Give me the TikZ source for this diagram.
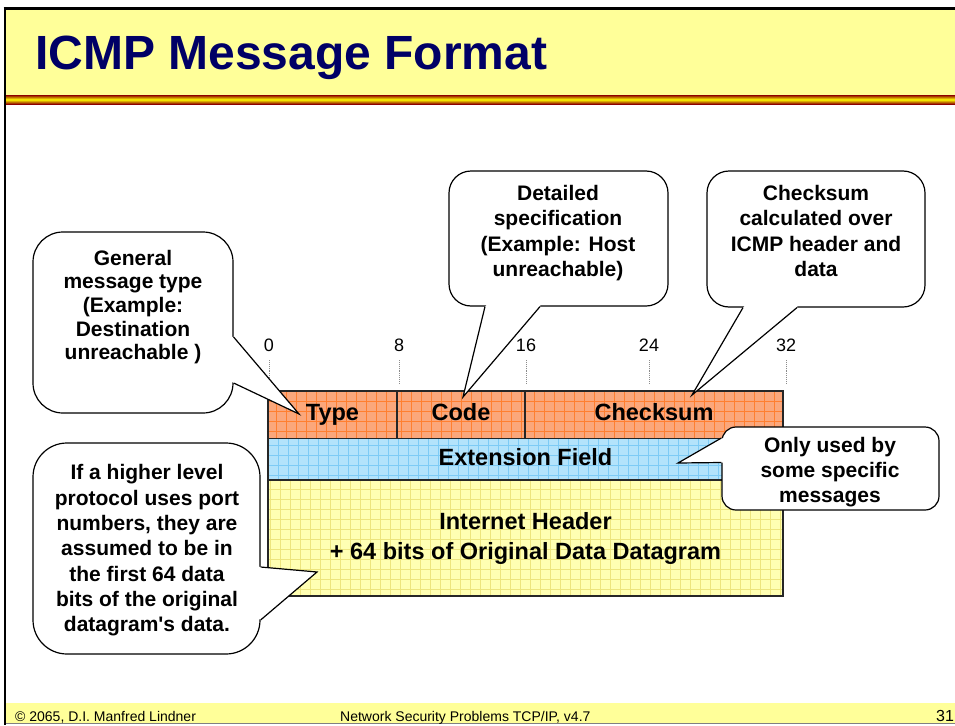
\documentclass[tikz,border=0pt]{standalone}
\usepackage{fontspec}
\setmainfont{Liberation Sans}
\usetikzlibrary{calc}

\definecolor{slideyellow}{HTML}{FFFF99}
\definecolor{titleblue}{HTML}{000066}
\definecolor{typeorange}{HTML}{FBA77B}
\definecolor{typegrid}{HTML}{FF7F30}
\definecolor{extblue}{HTML}{B3E3FB}
\definecolor{extgrid}{HTML}{7ECBF5}
\definecolor{inetyellow}{HTML}{FFFFB3}
\definecolor{inetgrid}{HTML}{EDE57E}

\begin{document}
\begin{tikzpicture}[x=1pt,y=-1pt,
  field/.style={draw=black!85, line width=1.1pt, inner sep=0pt, align=center,
    font=\fontsize{23.5}{30}\selectfont\bfseries},
  oneline/.style={text height=17pt, text depth=5pt},
  paper/.style 2 args={fill=#1, path picture={\draw[#2, line width=0.5pt, step=10pt]
    (path picture bounding box.south west) grid (path picture bounding box.north east);}},
  callout/.style={draw, line width=1.2pt, fill=white, rounded corners=#1, inner sep=0pt},
  tail/.style={line width=1.2pt},
  note/.style={align=center, inner sep=0pt, font=\fontsize{21}{#1}\selectfont\bfseries},
  note/.default=25.3,
  bitnum/.style={font=\fontsize{18}{20}\selectfont},
  tick/.style={densely dotted, black!45, line width=0.9pt},
  footer/.style={anchor=base west, inner sep=0pt, font=\fontsize{14}{16}\selectfont}]
\useasboundingbox (0,0) rectangle (955,725);

% slide frame
\fill[slideyellow] (6,10) rectangle (955,95);
\shade[top color=red!55!black, bottom color=red!55!black, middle color=yellow] (6,95) rectangle (955,104);
\fill[slideyellow] (6,703) rectangle (955,723);
\draw[black!50] (6,723) -- (955,723);
\draw[line width=3pt] (3.5,8.5) -- (955,8.5);
\draw[line width=2.5pt] (5,8) -- (5,725);
\node[anchor=base west, inner sep=0pt, text=titleblue, font=\fontsize{48}{56}\selectfont\bfseries] (title) at (35,70) {ICMP Message Format};
\node[footer] (copy) at (15,721) {© 2065, D.I. Manfred Lindner};
\node[footer] (course) at (340,721) {Network Security Problems TCP/IP, v4.7};
\node[footer, font=\fontsize{16}{18}\selectfont] (page) at (936,721) {31};

% bit scale
\foreach \b/\x in {0/269,8/399,16/526,24/649,32/786}{
  \node[bitnum] (bit\b) at (\x,345) {\b};
  \draw[tick] (\x,360) -- (\x,383);
}

% message fields
\node[field, oneline, paper={typeorange}{typegrid}, minimum width=129pt, minimum height=47.5pt] (type) at (332.5,414.75) {Type};
\node[field, oneline, paper={typeorange}{typegrid}, minimum width=128pt, minimum height=47.5pt] (code) at (461,414.75) {Code};
\node[field, oneline, paper={typeorange}{typegrid}, minimum width=258pt, minimum height=47.5pt] (chksum) at (654,414.75) {Checksum};
\node[field, oneline, paper={extblue}{extgrid}, minimum width=515pt, minimum height=41.5pt] (ext) at (525.5,459.25) {Extension Field};
\node[field, paper={inetyellow}{inetgrid}, minimum width=515pt, minimum height=116pt] (inet) at (525.5,538) {Internet Header\\+ 64 bits of Original Data Datagram};

% callouts
\node[callout=30pt, minimum width=200pt, minimum height=181pt] (typecall) at (133,322.5) {};
\node[callout=22pt, minimum width=219pt, minimum height=135pt] (codecall) at (558.5,238.5) {};
\node[callout=22pt, minimum width=218pt, minimum height=136pt] (sumcall) at (816,239) {};
\node[callout=14pt, minimum width=217pt, minimum height=83pt] (extcall) at (830.5,468.5) {};
\node[callout=34pt, minimum width=227pt, minimum height=211pt] (portcall) at (146.5,548.5) {};

\coordinate (typetip) at (299,414);
\coordinate (codetip) at (463,397);
\coordinate (sumtip) at (692,395);
\coordinate (exttip) at (678,463);
\coordinate (porttip) at (317,572);

\fill[white] ($(typecall.east)+(0,14.5)$) -- (typetip) -- ($(typecall.east)+(0,60.5)$) -- (typecall.center) -- cycle;
\draw[tail] ($(typecall.east)+(0,14.5)$) -- (typetip) -- ($(typecall.east)+(0,60.5)$);
\fill[white] ($(codecall.south)+(-73.5,0)$) -- (codetip) -- ($(codecall.south)+(-18.5,0)$) -- (codecall.center) -- cycle;
\draw[tail] ($(codecall.south)+(-73.5,0)$) -- (codetip) -- ($(codecall.south)+(-18.5,0)$);
\fill[white] ($(sumcall.south)+(-73,0)$) -- (sumtip) -- ($(sumcall.south)+(-19,0)$) -- (sumcall.center) -- cycle;
\draw[tail] ($(sumcall.south)+(-73,0)$) -- (sumtip) -- ($(sumcall.south)+(-19,0)$);
\fill[white] ($(extcall.west)+(0,-30.5)$) -- (exttip) -- ($(extcall.west)+(0,-6)$) -- (extcall.center) -- cycle;
\draw[tail] ($(extcall.west)+(0,-30.5)$) -- (exttip) -- ($(extcall.west)+(0,-6)$);
\fill[white] ($(portcall.east)+(0,18.5)$) -- (porttip) -- ($(portcall.east)+(0,71.5)$) -- (portcall.center) -- cycle;
\draw[tail] ($(portcall.east)+(0,18.5)$) -- (porttip) -- ($(portcall.east)+(0,71.5)$);

\node[note=23.7] (typenote) at (133,307) {General\\message type\\(Example:\\Destination\\unreachable )};
\node[note] (codenote) at (558,233) {Detailed\\specification\\(Example: Host\\unreachable)};
\node[note] (sumnote) at (816,231) {Checksum\\calculated over\\ICMP header and\\data};
\node[note] (extnote) at (830,472) {Only used by\\some specific\\messages};
\node[note] (portnote) at (147,550.5) {If a higher level\\protocol uses port\\numbers, they are\\assumed to be in\\the first 64 data\\bits of the original\\datagram\textquotesingle s data.};
\end{tikzpicture}
\end{document}
